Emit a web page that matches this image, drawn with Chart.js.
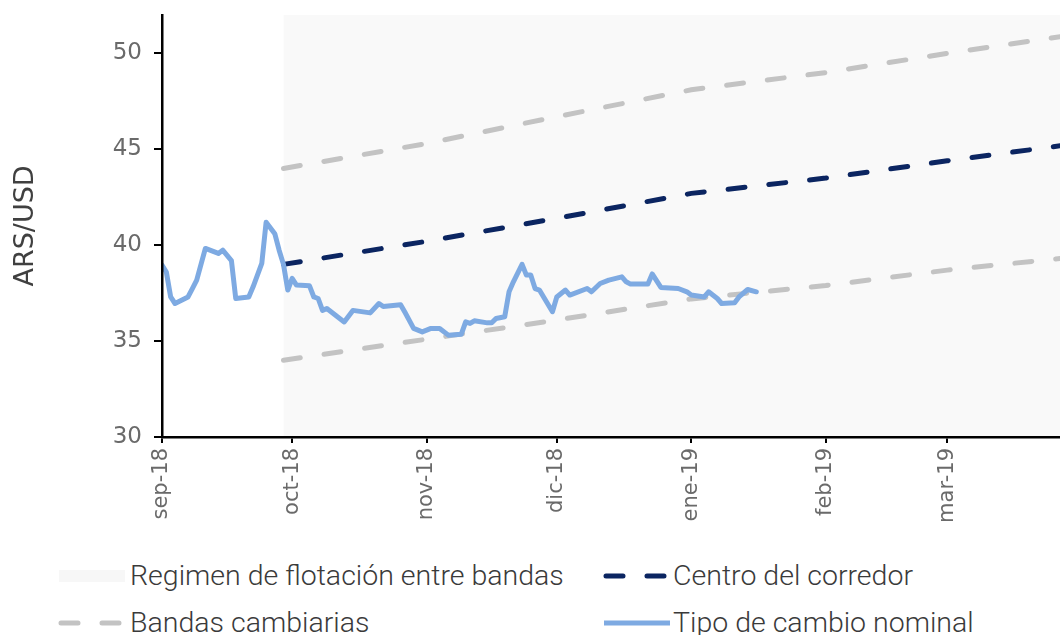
<!DOCTYPE html>
<html lang="es">
<head>
<meta charset="utf-8">
<script src="https://cdn.jsdelivr.net/npm/chart.js@4.4.1/dist/chart.umd.min.js"></script>
<style>
  html, body { margin: 0; padding: 0; background: #fff; }
  #wrap { position: relative; width: 1060px; height: 635px; overflow: hidden; }
  #grafico { position: absolute; left: 0; top: 0; }
  .leg { position: absolute; height: 30px; font-family: Roboto, "Noto Sans", sans-serif; font-weight: 300;
         font-size: 28.5px; line-height: 30px; color: #3a3a3a; white-space: nowrap; }
  .leg svg { position: absolute; top: 0; }
  .leg span { position: absolute; top: 0; }
</style>
</head>
<body>
<div id="wrap">
  <canvas id="grafico" width="1060" height="540"></canvas>

  <div class="leg" style="left:55px; top:561px;">
    <svg width="72" height="30"><rect x="4" y="9" width="66" height="12" fill="#f7f7f7"/></svg>
    <span style="left:75px;">Regimen de flotación entre bandas</span>
  </div>
  <div class="leg" style="left:598px; top:561px;">
    <svg width="76" height="30"><line x1="8" y1="15" x2="72" y2="15" stroke="#0b2561" stroke-width="5"
         stroke-linecap="round" stroke-dasharray="17 24"/></svg>
    <span style="left:75px;">Centro del corredor</span>
  </div>
  <div class="leg" style="left:55px; top:608px;">
    <svg width="76" height="30"><line x1="6" y1="15" x2="72" y2="15" stroke="#c3c3c3" stroke-width="5"
         stroke-linecap="round" stroke-dasharray="17 24"/></svg>
    <span style="left:75px;">Bandas cambiarias</span>
  </div>
  <div class="leg" style="left:598px; top:608px;">
    <svg width="76" height="30"><line x1="6" y1="15" x2="72" y2="15" stroke="#7eaae2" stroke-width="5"/></svg>
    <span style="left:75px;">Tipo de cambio nominal</span>
  </div>
</div>

<script>
// Tipo de cambio nominal (ARS/USD)
const fechas = [
  '2018-09-01', '2018-09-02', '2018-09-03', '2018-09-04', '2018-09-07', '2018-09-08', '2018-09-09',
  '2018-09-11', '2018-09-14', '2018-09-15', '2018-09-17', '2018-09-18', '2018-09-21', '2018-09-22',
  '2018-09-24', '2018-09-25', '2018-09-27', '2018-09-28', '2018-09-29', '2018-09-30', '2018-10-01',
  '2018-10-02', '2018-10-05', '2018-10-06', '2018-10-07', '2018-10-08', '2018-10-09', '2018-10-13',
  '2018-10-15', '2018-10-19', '2018-10-21', '2018-10-22', '2018-10-26', '2018-10-27', '2018-10-29',
  '2018-10-31', '2018-11-02', '2018-11-04', '2018-11-06', '2018-11-09', '2018-11-10', '2018-11-11',
  '2018-11-12', '2018-11-15', '2018-11-16', '2018-11-17', '2018-11-19', '2018-11-20', '2018-11-21',
  '2018-11-23', '2018-11-24', '2018-11-25', '2018-11-26', '2018-11-27', '2018-11-30', '2018-12-01',
  '2018-12-03', '2018-12-04', '2018-12-08', '2018-12-09', '2018-12-11', '2018-12-13', '2018-12-16',
  '2018-12-17', '2018-12-18', '2018-12-22', '2018-12-23', '2018-12-25', '2018-12-29', '2018-12-31',
  '2019-01-01', '2019-01-04', '2019-01-05', '2019-01-07', '2019-01-08', '2019-01-11', '2019-01-12',
  '2019-01-14', '2019-01-16'
];
const tipoCambio = [
  38.96, 38.6, 37.3, 36.96, 37.3, 37.74, 38.18,
  39.83, 39.57, 39.74, 39.2, 37.22, 37.3, 37.83,
  39.05, 41.2, 40.6, 39.74, 39.0, 37.66, 38.27,
  37.92, 37.88, 37.3, 37.22, 36.6, 36.7, 36.0,
  36.6, 36.47, 36.96, 36.8, 36.9, 36.5, 35.66,
  35.48, 35.66, 35.66, 35.31, 35.36, 36.0, 35.92,
  36.06, 35.95, 35.95, 36.18, 36.27, 37.57, 38.09,
  39.0, 38.44, 38.44, 37.74, 37.66, 36.53, 37.3,
  37.66, 37.4, 37.74, 37.57, 38.0, 38.18, 38.35,
  38.09, 37.97, 37.97, 38.5, 37.8, 37.74, 37.57,
  37.4, 37.3, 37.57, 37.22, 36.96, 37.0, 37.3,
  37.69, 37.57
];

// Bandas cambiarias y centro del corredor
const fechasBandas = ['2018-09-29', '2018-11-01', '2018-12-01', '2019-01-01', '2019-02-01', '2019-03-01', '2019-03-31'];
const bandaSuperior = [44.0, 45.3, 46.7, 48.1, 49.0, 50.0, 51.0];
const centroCorredor = [39.0, 40.2, 41.4, 42.7, 43.5, 44.4, 45.3];
const bandaInferior = [34.0, 35.1, 36.1, 37.2, 37.9, 38.7, 39.4];

// Eje x: meses
const mesesTicks = ['2018-09-01', '2018-10-01', '2018-11-01', '2018-12-01', '2019-01-01', '2019-02-01', '2019-03-01'];
const etiquetasMeses = ['sep-18', 'oct-18', 'nov-18', 'dic-18', 'ene-19', 'feb-19', 'mar-19'];
const finEje = '2019-03-27';

// Eje y
const yTicks = [30, 35, 40, 45, 50];
const yMin = 30;
const yMax = 52;

const inicioFlotacion = '2018-09-29';

const origen = Date.UTC(2018, 8, 1);
const dia = s => (Date.parse(s + 'T00:00:00Z') - origen) / 86400000;

const serie = (xs, ys) => xs.map((f, i) => ({ x: dia(f), y: ys[i] }));

const fuente = '"DejaVu Sans", "Noto Sans", sans-serif';

new Chart(document.getElementById('grafico'), {
    type: 'line',
    data: {
        datasets: [
            {
                label: 'Tipo de cambio nominal',
                data: serie(fechas, tipoCambio),
                borderColor: '#7eaae2',
                borderWidth: 5,
                borderJoinStyle: 'round',
                borderCapStyle: 'round',
                pointRadius: 0,
                tension: 0,
                order: 1
            },
            {
                label: 'Centro del corredor',
                data: serie(fechasBandas, centroCorredor),
                borderColor: '#0b2561',
                borderWidth: 5,
                borderDash: [17, 24],
                borderCapStyle: 'round',
                pointRadius: 0,
                tension: 0,
                order: 2
            },
            {
                label: 'Bandas cambiarias',
                data: serie(fechasBandas, bandaSuperior),
                borderColor: '#c3c3c3',
                borderWidth: 5,
                borderDash: [17, 24],
                borderCapStyle: 'round',
                pointRadius: 0,
                tension: 0,
                order: 3
            },
            {
                label: 'Banda inferior',
                data: serie(fechasBandas, bandaInferior),
                borderColor: '#c3c3c3',
                borderWidth: 5,
                borderDash: [17, 24],
                borderCapStyle: 'round',
                pointRadius: 0,
                tension: 0,
                order: 3
            },
            {
                label: 'Regimen de flotación entre bandas',
                data: [{ x: dia(inicioFlotacion), y: yMax }, { x: dia(finEje) + 10, y: yMax }],
                borderWidth: 0,
                backgroundColor: '#f9f9f9',
                fill: 'start',
                pointRadius: 0,
                order: 10
            }
        ]
    },
    options: {
        responsive: false,
        animation: false,
        devicePixelRatio: 1,
        layout: { padding: { top: 15, left: 0, right: 0, bottom: 0 } },
        plugins: {
            legend: { display: false },
            tooltip: { enabled: false }
        },
        scales: {
            x: {
                type: 'linear',
                min: 0,
                max: dia(finEje),
                border: { color: '#000', width: 2.5, z: 1 },
                grid: { drawOnChartArea: false, drawTicks: true, tickLength: 6, color: '#000', lineWidth: 2 },
                ticks: {
                    autoSkip: false,
                    minRotation: 90,
                    maxRotation: 90,
                    padding: 5,
                    color: '#6a6a6a',
                    font: { family: fuente, size: 21 },
                    callback: v => {
                        const i = mesesTicks.findIndex(m => dia(m) === v);
                        return i >= 0 ? etiquetasMeses[i] : '';
                    }
                },
                afterBuildTicks: s => { s.ticks = mesesTicks.map(m => ({ value: dia(m) })); },
                afterFit: s => { s.height = 103; s.paddingLeft = 0; s.paddingRight = 0; }
            },
            y: {
                min: yMin,
                max: yMax,
                border: { color: '#000', width: 2.5, z: 1 },
                grid: { drawOnChartArea: false, drawTicks: true, tickLength: 8, color: '#000', lineWidth: 2 },
                ticks: {
                    padding: 12,
                    color: '#6a6a6a',
                    font: { family: fuente, size: 23 }
                },
                title: {
                    display: true,
                    text: 'ARS/USD',
                    color: '#404040',
                    font: { family: fuente, size: 27 },
                    padding: { top: 10, bottom: 0 }
                },
                afterBuildTicks: s => { s.ticks = yTicks.map(v => ({ value: v })); },
                afterFit: s => { s.width = 162; s.paddingTop = 0; s.paddingBottom = 0; }
            }
        }
    }
});
</script>
</body>
</html>
